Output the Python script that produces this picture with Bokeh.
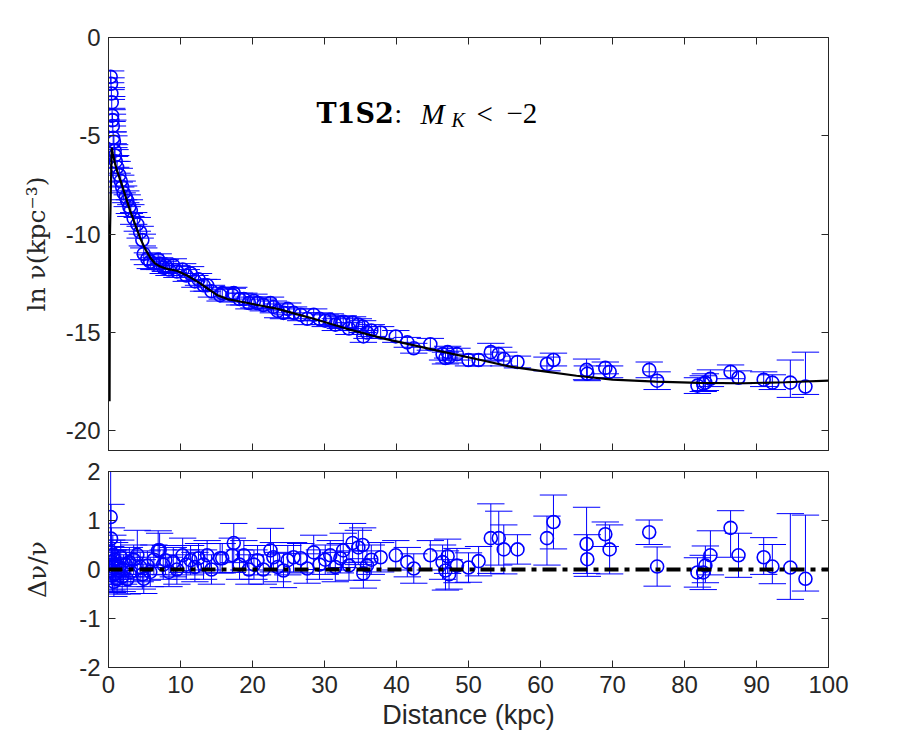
import numpy as np
from bokeh.plotting import figure
from bokeh.layouts import column
from bokeh.models import Range1d, FixedTicker, LinearAxis, Label, Span
from bokeh.embed import file_html
from bokeh.resources import INLINE

# ---------------- data ----------------
dist = [0.3, 0.35, 0.4, 0.45, 0.5, 0.55, 0.6, 0.65, 0.75, 0.85, 0.9, 1.0,
        1.2, 1.5, 1.7, 1.9, 2.1, 2.4, 2.6, 2.9, 3.1, 3.5,
        4.0, 4.4, 4.7, 4.9, 5.4, 5.8, 6.3, 6.9, 7.1, 7.6,
        7.9, 8.4, 9.0, 9.5, 10.3, 10.8, 11.4, 12.0, 12.5, 13.2,
        13.7, 14.3, 15.5, 15.8, 17.2, 17.4, 18.2, 18.8, 19.5, 20.2,
        20.7, 21.5, 22.5, 22.9, 23.5, 24.3, 24.9, 25.7, 26.7, 27.6,
        28.5, 29.3, 30.1, 30.8, 31.5, 32.2, 32.6, 33.4, 33.9, 34.7,
        35.3, 35.4, 35.9, 36.5, 37.8, 39.9, 41.5, 42.4, 44.7, 46.4,
        46.8, 47.1, 47.3, 48.4, 50.0, 51.4, 53.1, 54.2, 54.9, 56.8,
        60.9, 61.8, 66.4, 66.5, 69.0, 69.6, 75.1, 76.2, 81.8, 82.6,
        82.9, 83.6, 86.4, 87.5, 91.0, 92.2, 94.7, 96.8]

ln_nu = [-2.0, -2.35, -2.85, -3.3, -3.97, -4.2, -4.5, -5.1, -5.3, -5.75, -6.0, -6.3,
         -6.6, -7.0, -7.3, -7.6, -7.9, -8.1, -8.3, -8.6, -8.8, -9.2,
         -9.5, -9.9, -10.3, -11.0, -11.25, -11.4, -11.5, -11.3, -11.5, -11.7,
         -11.6, -11.8, -11.6, -11.9, -11.8, -12.1, -12.0, -12.4, -12.3, -12.6,
         -12.6, -12.9, -13.1, -13.0, -13.1, -13.0, -13.3, -13.3, -13.5, -13.4,
         -13.5, -13.6, -13.5, -13.7, -13.9, -14.0, -13.8, -14.0, -14.1, -14.3,
         -14.1, -14.3, -14.4, -14.35, -14.6, -14.5, -14.45, -14.8, -14.5, -14.6,
         -14.7, -15.2, -15.0, -14.9, -15.0, -15.2, -15.5, -15.8, -15.6, -16.1,
         -16.3, -16.0, -16.25, -16.1, -16.4, -16.4, -16.0, -16.1, -16.35, -16.5,
         -16.6, -16.4, -16.9, -17.1, -16.8, -17.0, -16.9, -17.45, -17.7, -17.6,
         -17.55, -17.35, -17.0, -17.3, -17.4, -17.55, -17.55, -17.75]

ln_err_lo = [0.3, 0.3, 0.3, 0.3, 0.3, 0.3, 0.3, 0.3, 0.3, 0.3, 0.3, 0.3,
             0.3, 0.35, 0.3, 0.3, 0.35, 0.3, 0.3, 0.35, 0.3, 0.3,
             0.35, 0.3, 0.3, 0.3, 0.3, 0.35, 0.3, 0.3, 0.3, 0.3,
             0.3, 0.3, 0.35, 0.3, 0.3, 0.3, 0.35, 0.3, 0.3, 0.3,
             0.3, 0.3, 0.3, 0.3, 0.35, 0.3, 0.3, 0.3, 0.3, 0.35,
             0.3, 0.3, 0.3, 0.3, 0.35, 0.3, 0.3, 0.3, 0.3, 0.3,
             0.3, 0.3, 0.3, 0.3, 0.3, 0.3, 0.3, 0.3, 0.3, 0.3,
             0.3, 0.3, 0.3, 0.3, 0.3, 0.3, 0.25, 0.25, 0.3, 0.3,
             0.3, 0.3, 0.3, 0.3, 0.3, 0.3, 0.4, 0.35, 0.35, 0.3,
             0.35, 0.3, 0.5, 0.35, 0.3, 0.3, 0.4, 0.45, 0.4, 0.4,
             0.4, 0.4, 0.35, 0.3, 0.35, 0.35, 0.75, 0.4]

ln_err_hi = [0.3, 0.3, 0.3, 0.3, 0.3, 0.3, 0.3, 0.3, 0.3, 0.3, 0.3, 0.3,
             0.3, 0.35, 0.3, 0.3, 0.35, 0.3, 0.3, 0.35, 0.3, 0.3,
             0.35, 0.3, 0.3, 0.3, 0.3, 0.35, 0.3, 0.3, 0.3, 0.3,
             0.3, 0.3, 0.35, 0.3, 0.3, 0.3, 0.35, 0.3, 0.3, 0.3,
             0.3, 0.3, 0.3, 0.3, 0.35, 0.3, 0.3, 0.3, 0.3, 0.35,
             0.3, 0.3, 0.3, 0.3, 0.35, 0.3, 0.3, 0.3, 0.3, 0.3,
             0.3, 0.3, 0.3, 0.3, 0.3, 0.3, 0.3, 0.3, 0.3, 0.3,
             0.3, 0.3, 0.3, 0.3, 0.3, 0.3, 0.25, 0.25, 0.3, 0.3,
             0.3, 0.3, 0.3, 0.3, 0.3, 0.3, 0.45, 0.35, 0.35, 0.3,
             0.35, 0.35, 0.55, 0.4, 0.3, 0.3, 0.4, 0.45, 0.4, 0.4,
             0.45, 0.45, 0.35, 0.35, 0.4, 0.4, 1.15, 1.75]

resid = [1.07, 0.63, 0.35, 0.15, -0.02, -0.12, 0.3, 0.05, -0.25, 0.2, -0.1, 0.1,
         -0.2, 0.05, 0.25, -0.15, 0.0, 0.1, -0.2, 0.15, -0.05, 0.2,
         0.3, 0.05, -0.1, -0.19, 0.08, -0.05, 0.2, 0.39, 0.39, 0.1,
         0.19, -0.05, 0.15, 0.0, 0.29, 0.1, 0.19, 0.05, 0.23, 0.1,
         0.29, 0.0, 0.23, 0.23, 0.29, 0.54, 0.1, 0.29, 0.0, 0.1,
         0.19, 0.0, 0.39, 0.25, 0.05, -0.02, 0.19, 0.25, 0.23, 0.02,
         0.35, 0.1, 0.2, 0.29, 0.05, 0.23, 0.39, 0.08, 0.54, 0.45,
         0.5, -0.08, 0.08, 0.2, 0.25, 0.29, 0.15, 0.02, 0.29, 0.15,
         -0.02, 0.27, -0.1, 0.08, 0.04, 0.17, 0.64, 0.64, 0.41, 0.41,
         0.64, 0.97, 0.52, 0.21, 0.72, 0.41, 0.76, 0.06, -0.06, -0.06,
         0.08, 0.29, 0.85, 0.29, 0.25, 0.06, 0.04, -0.19]

resid_err_lo = [0.6, 0.6, 0.5, 0.45, 0.4, 0.35, 0.4, 0.35, 0.3, 0.35, 0.3, 0.3,
                0.3, 0.3, 0.35, 0.3, 0.3, 0.3, 0.3, 0.3, 0.3, 0.3,
                0.45, 0.3, 0.3, 0.3, 0.3, 0.3, 0.3, 0.35, 0.3, 0.3,
                0.3, 0.3, 0.3, 0.3, 0.35, 0.3, 0.3, 0.3, 0.3, 0.3,
                0.3, 0.3, 0.3, 0.3, 0.35, 0.4, 0.3, 0.3, 0.3, 0.3,
                0.3, 0.3, 0.4, 0.3, 0.3, 0.35, 0.3, 0.3, 0.3, 0.3,
                0.35, 0.3, 0.3, 0.3, 0.3, 0.3, 0.35, 0.3, 0.4, 0.35,
                0.35, 0.3, 0.3, 0.3, 0.3, 0.3, 0.3, 0.3, 0.3, 0.35,
                0.4, 0.35, 0.3, 0.35, 0.3, 0.3, 0.72, 0.55, 0.5, 0.3,
                0.55, 0.55, 0.6, 0.35, 0.25, 0.5, 0.25, 0.4, 0.3, 0.35,
                0.35, 0.4, 0.6, 0.45, 0.35, 0.35, 0.65, 0.25]

resid_err_hi = [0.95, 0.7, 0.5, 0.45, 0.4, 0.35, 0.4, 0.35, 0.3, 0.35, 0.3, 0.3,
                0.3, 0.3, 0.35, 0.3, 0.3, 0.3, 0.3, 0.3, 0.3, 0.3,
                0.5, 0.3, 0.3, 0.3, 0.3, 0.3, 0.3, 0.4, 0.35, 0.3,
                0.3, 0.3, 0.3, 0.3, 0.35, 0.3, 0.3, 0.3, 0.3, 0.3,
                0.3, 0.3, 0.3, 0.3, 0.35, 0.4, 0.3, 0.3, 0.3, 0.3,
                0.3, 0.3, 0.45, 0.3, 0.3, 0.35, 0.3, 0.3, 0.3, 0.3,
                0.35, 0.3, 0.3, 0.3, 0.3, 0.3, 0.35, 0.3, 0.4, 0.35,
                0.35, 0.3, 0.3, 0.3, 0.3, 0.3, 0.3, 0.3, 0.3, 0.35,
                0.4, 0.35, 0.3, 0.35, 0.3, 0.3, 0.7, 0.55, 0.5, 0.3,
                0.45, 0.55, 0.75, 0.5, 0.25, 0.5, 0.25, 0.4, 0.3, 0.35,
                0.4, 0.5, 0.35, 0.45, 0.4, 0.45, 1.1, 1.3]

model_x = [0.15, 0.2, 0.45, 0.6, 0.9, 1.2, 1.67, 2.3, 3.0, 3.7, 4.4, 5.1, 5.8,
           6.5, 7.2, 8.3, 9.5, 10.9, 12.3, 13.7, 15.1, 16.5, 17.9, 20.7, 23.5,
           26.0, 28.5, 33.0, 37.8, 40.6, 46.0, 51.7, 56.0, 60.0, 65.0, 70.0,
           76.0, 82.0, 88.0, 94.0, 100.0]
model_y = [-18.5, -10.0, -5.6, -5.9, -6.4, -6.8, -7.28, -8.0, -8.8, -9.5, -10.2,
           -10.75, -11.2, -11.5, -11.65, -11.78, -11.86, -12.1, -12.4, -12.75,
           -13.1, -13.3, -13.4, -13.6, -13.8, -14.05, -14.3, -14.8, -15.27,
           -15.5, -15.95, -16.4, -16.75, -16.95, -17.2, -17.4, -17.5, -17.56,
           -17.58, -17.53, -17.45]

x_ticks = [0, 10, 20, 30, 40, 50, 60, 70, 80, 90, 100]
top_y_ticks = [0, -5, -10, -15, -20]
bot_y_ticks = [-2, -1, 0, 1, 2]

# ---------------- styling ----------------
BLUE = "#0000ff"
AX = "#262626"
SANS = "Liberation Sans"
SERIF = "DejaVu Serif"
SERIF2 = "Liberation Serif"
CAP = 1.9  # half width of error-bar caps (kpc)

x = np.array(dist)


def tick_only_axis(ticks):
    ax = LinearAxis(ticker=FixedTicker(ticks=ticks))
    ax.major_label_overrides = {t: "" for t in ticks}
    ax.major_label_standoff = 0
    ax.major_tick_in = 7
    ax.major_tick_out = 0
    ax.minor_tick_line_color = None
    ax.axis_line_color = None
    ax.major_tick_line_color = AX
    return ax


def style_axis(ax, ticks, labels=True):
    ax.ticker = FixedTicker(ticks=ticks)
    ax.major_tick_in = 7
    ax.major_tick_out = 0
    ax.minor_tick_line_color = None
    ax.axis_line_color = AX
    ax.major_tick_line_color = AX
    ax.major_label_text_font = SANS
    ax.major_label_text_font_size = "24px"
    ax.major_label_text_color = AX
    ax.major_label_standoff = 8
    if labels:
        ax.major_label_overrides = {t: str(t) for t in ticks}
    else:
        ax.major_label_overrides = {t: "" for t in ticks}
        ax.major_label_standoff = 0


def base_style(p, yticks, xlabels):
    p.grid.visible = False
    p.outline_line_color = AX
    p.outline_line_width = 1
    style_axis(p.below[0], x_ticks, xlabels)
    style_axis(p.left[0], yticks, True)
    p.add_layout(tick_only_axis(x_ticks), "above")
    p.add_layout(tick_only_axis(yticks), "right")


def errorbars(p, xs, lo, hi):
    p.segment(x0=xs, y0=lo, x1=xs, y1=hi, line_color=BLUE, line_width=1)
    p.segment(x0=xs - CAP, y0=lo, x1=xs + CAP, y1=lo, line_color=BLUE, line_width=1)
    p.segment(x0=xs - CAP, y0=hi, x1=xs + CAP, y1=hi, line_color=BLUE, line_width=1)


# ---------------- top panel ----------------
p1 = figure(width=900, height=452, x_range=Range1d(0, 100), y_range=Range1d(-21, 0),
            output_backend="svg", toolbar_location=None,
            min_border_left=108, min_border_right=72, min_border_top=37, min_border_bottom=2)
base_style(p1, top_y_ticks, False)
yl = p1.left[0]
yl.axis_label = "ln ν(kpc⁻³)"
yl.axis_label_text_font = SERIF
yl.axis_label_text_font_style = "normal"
yl.axis_label_text_font_size = "25px"
yl.axis_label_text_color = AX
yl.axis_label_standoff = 12

ly = np.array(ln_nu)
errorbars(p1, x, ly - np.array(ln_err_lo), ly + np.array(ln_err_hi))
p1.scatter(dist, ln_nu, marker="circle", size=13, fill_color=None,
           line_color=BLUE, line_width=1.6)
p1.line(model_x, model_y, line_color="black", line_width=2.2)

title_y = -3.87
for txt, px, font, style_, size, dy in [
        ("T1S2", 316, SERIF, "bold", "27px", 0.0),
        (":", 394, SERIF2, "normal", "27px", 0.0),
        ("M", 420, SERIF2, "italic", "29px", 0.0),
        ("K", 451, SERIF2, "italic", "20px", -0.3),
        ("<", 476, SERIF2, "normal", "29px", 0.0),
        ("−2", 506, SERIF2, "normal", "29px", 0.0)]:
    p1.add_layout(Label(x=(px - 108) / 7.2, y=title_y + dy, text=txt,
                        text_font=font, text_font_style=style_,
                        text_font_size=size, text_color="black",
                        text_baseline="alphabetic", text_align="left"))

# ---------------- bottom panel ----------------
p2 = figure(width=900, height=298, x_range=Range1d(0, 100), y_range=Range1d(-2, 2),
            output_backend="svg", toolbar_location=None,
            min_border_left=108, min_border_right=72, min_border_top=19, min_border_bottom=83)
base_style(p2, bot_y_ticks, True)
yl2 = p2.left[0]
yl2.axis_label = "Δν/ν"
yl2.axis_label_text_font = SERIF
yl2.axis_label_text_font_style = "normal"
yl2.axis_label_text_font_size = "25px"
yl2.axis_label_text_color = AX
yl2.axis_label_standoff = 24
xl = p2.below[0]
xl.axis_label = "Distance (kpc)"
xl.axis_label_text_font = SANS
xl.axis_label_text_font_style = "normal"
xl.axis_label_text_font_size = "27px"
xl.axis_label_text_color = AX
xl.axis_label_standoff = 4

r = np.array(resid)
errorbars(p2, x, r - np.array(resid_err_lo), r + np.array(resid_err_hi))
p2.add_layout(Span(location=0, dimension="width", line_color="black",
                   line_width=4, line_dash="14 6 5 6"))
p2.scatter(dist, resid, marker="circle", size=13, fill_color=None,
           line_color=BLUE, line_width=1.6)

layout = column(p1, p2, spacing=0)
open("out.html", "w").write(file_html(layout, INLINE))
